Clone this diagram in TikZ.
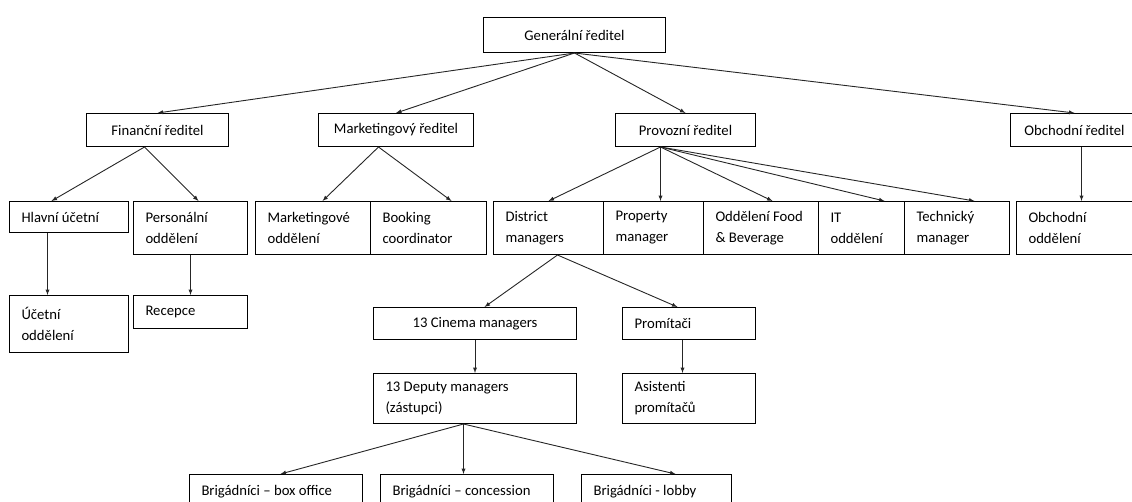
\documentclass[tikz,border=0pt]{standalone}
\usepackage{fontspec}
\setmainfont{Carlito}
\usetikzlibrary{positioning}

\begin{document}
\begin{tikzpicture}[x=1pt, y=-1pt, font=\fontsize{14.7}{21}\selectfont,
  org box/.style={draw, line width=1pt, anchor=north west, inner xsep=12pt, inner ysep=3pt},
  head box/.style={org box, align=center},
  link/.style={draw, -latex, line width=0.9pt, black!85}]
\useasboundingbox (0, 0) rectangle (1132, 501);

% directors, text centred
\foreach \x/\y/\w/\h/\name/\phrase in {
    483/17/182/35/gen/Generální ředitel,
    86/113/142/33/fin/Finanční ředitel,
    318/113/155/33/mkt/Marketingový ředitel,
    615/113/140/33/prov/Provozní ředitel,
    1010/113/128/33/obch/Obchodní ředitel,
    373/307/203/32/cinema/13 Cinema managers} {
  \node[head box, minimum width=\w, minimum height=\h]
    (\name)
    at (\x, \y)
    {\phrase};
}

% departments, text flush left
\foreach \x/\y/\w/\h/\name/\phrase [evaluate=\w as \tw using \w-24] in {
    9/201/119/31/hlavni/Hlavní účetní,
    133/201/114/53/pers/Personální\\oddělení,
    255/201/115/53/mktodd/Marketingové\\oddělení,
    370/201/116/53/booking/Booking\\coordinator,
    493/201/110/53/district/District\\managers,
    603/201/100/53/property/Property\\manager,
    703/201/115/53/fb/Oddělení Food\\\& Beverage,
    818/201/86/53/it/IT\\oddělení,
    904/201/105/53/tech/Technický\\manager,
    1016/201/130/53/obchodd/Obchodní\\oddělení,
    9/295/119/57/ucetni/Účetní\\oddělení,
    133/295/114/33/recepce/Recepce,
    622/307/133/32/promitaci/Promítači,
    373/373/203/50/deputy/13 Deputy managers\\(zástupci),
    622/373/133/50/asist/Asistenti\\promítačů,
    189/474/173/34/boxoffice/Brigádníci – box office,
    380/474/173/34/concession/Brigádníci – concession,
    581/474/150/34/lobby/Brigádníci - lobby} {
  \node[org box, align=flush left, text width=\tw pt, minimum width=\w, minimum height=\h]
    (\name)
    at (\x, \y)
    {\phrase};
}

% fan-out points
\coordinate (fin-foot) at ([xshift=-13pt]fin.south);
\coordinate (mkt-foot) at ([xshift=-17.5pt]mkt.south);
\coordinate (prov-foot) at ([xshift=-25pt]prov.south);
\coordinate (district-foot) at ([xshift=9pt]district.south);
\coordinate (deputy-foot) at ([xshift=-11.5pt]deputy.south);

\path (gen.south)
  edge[link] (fin.north)
  edge[link] (mkt.north)
  edge[link] (prov.north)
  edge[link] (obch.north);
\path (fin-foot)
  edge[link] ([xshift=-17.5pt]hlavni.north)
  edge[link] ([xshift=8pt]pers.north);
\path (mkt-foot)
  edge[link] ([xshift=9.5pt]mktodd.north)
  edge[link] ([xshift=23pt]booking.north);
\path (prov-foot)
  edge[link] (district.north)
  edge[link] (prov-foot |- property.north)
  edge[link] ([xshift=11.5pt]fb.north)
  edge[link] ([xshift=23pt]it.north)
  edge[link] ([xshift=17.5pt]tech.north);
\draw[link] (obchodd.north |- obch.south) -- (obchodd.north);
\draw[link] ([xshift=-21.5pt]hlavni.south) -- ([xshift=-21.5pt]ucetni.north);
\draw[link] (pers.south) -- (recepce.north);
\path (district-foot)
  edge[link] ([xshift=9.5pt]cinema.north)
  edge[link] ([xshift=-11.5pt]promitaci.north);
\draw[link] (cinema.south) -- (deputy.north);
\draw[link] ([xshift=-6.5pt]promitaci.south) -- ([xshift=-6.5pt]asist.north);
\path (deputy-foot)
  edge[link] ([xshift=4.5pt]boxoffice.north)
  edge[link] (deputy-foot |- concession.north)
  edge[link] ([xshift=19pt]lobby.north);
\end{tikzpicture}
\end{document}
